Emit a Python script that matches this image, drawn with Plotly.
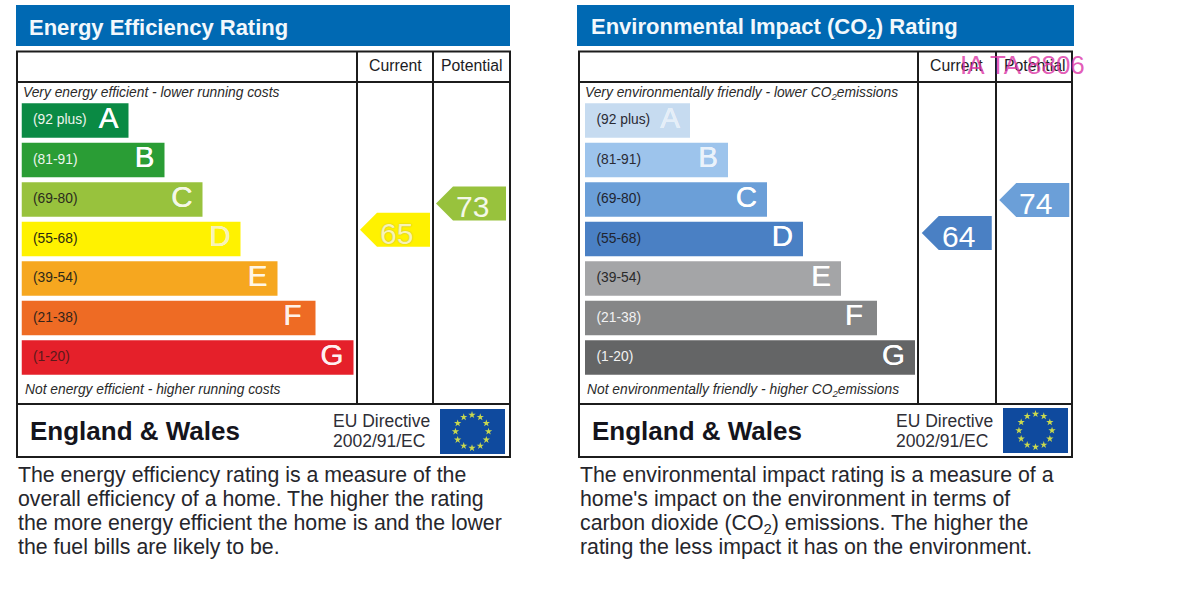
import plotly.graph_objects as go

# ---- data ----
bands = ["A", "B", "C", "D", "E", "F", "G"]
band_ranges = ["(92 plus)", "(81-91)", "(69-80)", "(55-68)", "(39-54)", "(21-38)", "(1-20)"]
energy_bar_lengths = [107, 143, 181, 219, 256, 294, 332]
co2_bar_lengths = [105, 143, 182, 218, 256, 292, 330]
columns = ["Current", "Potential"]
energy_ratings = [65, 73]
co2_ratings = [64, 74]
star_angles = [0, 30, 60, 90, 120, 150, 180, 210, 240, 270, 300, 330]

energy_colors = ["#0a8a44", "#2a9d35", "#98c23d", "#fff200", "#f6a71f", "#ee6b24", "#e5202a"]
co2_colors = ["#c6dbf0", "#9dc4ec", "#6b9fd8", "#4a80c4", "#a4a5a7", "#858687", "#646566"]
energy_label_colors = ["#eef5ee", "#eef5ee", "#2b2b1e", "#2b2b10", "#2e2a1a", "#33241a", "#5a1a1a"]
co2_label_colors = ["#2a2a33", "#2a2a33", "#1f2430", "#1f2430", "#2a2a2a", "#f2f2f2", "#f2f2f2"]
energy_letter_colors = ["#ffffff", "#ffffff", "#f5f8e6", "#f7f2b8", "#fff6e4", "#fff1e8", "#fff0f0"]
co2_letter_colors = ["#e4eef8", "#eaf2fb", "#ffffff", "#ffffff", "#ffffff", "#ffffff", "#ffffff"]
energy_rating_colors = ["#f8f3b6", "#f4f8e8"]
co2_rating_colors = ["#ffffff", "#ffffff"]

FONT = "Liberation Sans, Arial, sans-serif"
W, H = 1187, 600
THICK = "0.3px 0 0 rgba(255,255,255,0.7), -0.3px 0 0 rgba(255,255,255,0.7)"


def fx(x):
    return x / W


def fy(y):
    return 1 - y / H


annotations = []
shapes = []


def label(x, y, text, size, color="#222222", xanchor="left", xref="paper", weight=None):
    if xref == "paper" and xanchor == "left":
        x = x - 1  # annotation boxes keep a small inner pad
    if "<sub>" in text:
        y = y + 1  # a subscript makes the text box taller
    font = dict(family=FONT, size=size, color=color)
    if weight:
        font["weight"] = weight
    annotations.append(dict(
        x=x if xref != "paper" else fx(x), y=fy(y), xref=xref, yref="paper",
        text=text, showarrow=False, xanchor=xanchor, yanchor="middle",
        font=font, borderpad=0))


def rect(x0, y0, x1, y1, fill="rgba(0,0,0,0)", line=None, width=2):
    shapes.append(dict(type="rect", xref="paper", yref="paper", layer="below",
                       x0=fx(x0), x1=fx(x1), y0=fy(y0), y1=fy(y1), fillcolor=fill,
                       line=dict(color=line or "rgba(0,0,0,0)", width=width if line else 0)))


def hline(x0, x1, y):
    shapes.append(dict(type="line", xref="paper", yref="paper", layer="below",
                       x0=fx(x0), x1=fx(x1), y0=fy(y), y1=fy(y), line=dict(color="#1c1c1c", width=2)))


def vline(x, y0, y1):
    shapes.append(dict(type="line", xref="paper", yref="paper", layer="below",
                       x0=fx(x), x1=fx(x), y0=fy(y0), y1=fy(y1), line=dict(color="#1c1c1c", width=2)))


def band_of(rating):
    for letter, text in zip(bands, band_ranges):
        if text == "(92 plus)":
            if rating >= 92:
                return letter
        else:
            lo, hi = text[1:-1].split("-")
            if int(lo) <= rating <= int(hi):
                return letter
    return bands[-1]


fig = go.Figure()
BAR_TOP, BAR_BOTTOM = 100.8, 377.3
LETTER_INSET = {"F": 14}


def panel(n, left, lengths, colors, label_colors, letter_colors, ratings, rating_colors,
          bar_x, col_x0, col_x1, header, title, top_note, bottom_note, text_lines,
          head_x0, head_x1, flag_x0, flag_y0, polar_c, note_size):
    xa = 2 * n - 1
    xb = 2 * n
    sx = "" if xa == 1 else str(xa)
    axx, axy = "x" + sx, "y" + sx
    bxx, bxy = f"x{xb}", f"y{xb}"

    fig.add_trace(go.Bar(x=lengths, y=bands, orientation="h", marker=dict(color=colors, line=dict(width=0)),
                         xaxis=axx, yaxis=axy, hoverinfo="x+y", showlegend=False))
    fig.add_trace(go.Scatter(x=[11.5] * 7, y=bands, text=band_ranges, mode="text", textposition="middle right",
                             textfont=dict(family=FONT, size=13.8, color=label_colors),
                             xaxis=axx, yaxis=axy, hoverinfo="skip", showlegend=False))
    fig.add_trace(go.Scatter(x=[v - LETTER_INSET.get(b, 10) for v, b in zip(lengths, bands)], y=bands, text=bands,
                             mode="text", textposition="middle left",
                             textfont=dict(family=FONT, size=29.5, color=letter_colors, shadow=THICK),
                             xaxis=axx, yaxis=axy, hoverinfo="skip", showlegend=False))

    # rating pointers: anchored on the rating axis, sized in pixels
    for col, r, tc in zip(columns, ratings, rating_colors):
        fill = colors[bands.index(band_of(r))]
        shapes.append(dict(type="path", xref=bxx, yref=bxy, layer="below",
                           xsizemode="pixel", ysizemode="pixel", xanchor=col, yanchor=r,
                           path="M-35,0 L-18,-17 L35,-17 L35,17 L-18,17 Z",
                           fillcolor=fill, line=dict(width=0)))
        shadow = "0 0 1.5px #b0a848" if fill == "#fff200" else "none"
        annotations.append(dict(x=col, y=r, xref=bxx, yref=bxy, text=str(r), showarrow=False,
                                xanchor="center", yanchor="middle", xshift=1.5, yshift=-3.5,
                                font=dict(family=FONT, size=30, color=tc, shadow=shadow), borderpad=0))

    fig.update_layout(**{
        f"xaxis{sx}": dict(domain=[fx(bar_x), fx(bar_x + 335)], range=[0, 335], visible=False, fixedrange=True),
        f"yaxis{sx}": dict(domain=[fy(BAR_BOTTOM), fy(BAR_TOP)], type="category", categoryorder="array",
                           categoryarray=bands, autorange="reversed", visible=False, fixedrange=True,
                           anchor=axx),
        f"xaxis{xb}": dict(domain=[fx(col_x0), fx(col_x1)], type="category", categoryorder="array",
                           categoryarray=columns, visible=False, range=[-0.5, 1.5], fixedrange=True, anchor=bxy),
        f"yaxis{xb}": dict(domain=[fy(BAR_BOTTOM), fy(BAR_TOP)], range=[20.3, 104.1], visible=False,
                           fixedrange=True, anchor=bxx),
    })
    # keep the category axes in use even though the pointers are shapes
    fig.add_trace(go.Scatter(x=columns, y=ratings, mode="markers", marker=dict(size=1, opacity=0),
                             xaxis=bxx, yaxis=bxy, hoverinfo="y", showlegend=False))

    # frame
    rect(head_x0, 5, head_x1, 46, fill="#0069b3")
    rect(left, 51.5, left + 493, 457, line="#1c1c1c")
    hline(left, left + 493, 82)
    hline(left, left + 493, 404)
    vline(header[0], 51.5, 404)
    vline(header[1], 51.5, 404)

    # flag
    rect(flag_x0, flag_y0, flag_x0 + 65, flag_y0 + 45, fill="#0f4a9e")
    pname = "polar" if n == 1 else "polar2"
    fig.add_trace(go.Scatterpolar(r=[1] * 12, theta=star_angles, mode="markers",
                                  marker=dict(symbol="star", size=5.5, color="#c9d84e"),
                                  subplot=pname, hoverinfo="skip", showlegend=False))
    cx, cy = polar_c
    fig.update_layout(**{pname: dict(
        domain=dict(x=[fx(cx - 22), fx(cx + 22)], y=[fy(cy + 22), fy(cy - 22)]),
        bgcolor="rgba(0,0,0,0)",
        radialaxis=dict(visible=False, range=[0, 1.33]),
        angularaxis=dict(visible=False))})

    # texts
    label(left + 12, 27, title, 22, color="#f2f8fc", weight="bold")
    for col in columns:
        label(col, 66, col, 15.8, color="#1c1c24", xanchor="center", xref=bxx)
    label(left + 6, 92, f"<i>{top_note}</i>", note_size, color="#2a2a2a")
    label(left + 8, 389, f"<i>{bottom_note}</i>", note_size, color="#2a2a2a")
    label(left + 13, 431, "England &amp; Wales", 26, color="#14141c", weight="bold")
    label(flag_x0 - 107, 421, "EU Directive", 17.5, color="#2e2e36")
    label(flag_x0 - 107, 441, "2002/91/EC", 17.5, color="#2e2e36")
    for i, t in enumerate(text_lines):
        label(left + 1, 475 + 24 * i, t, 21.3, color="#26262c")


panel(1, 17, energy_bar_lengths, energy_colors, energy_label_colors, energy_letter_colors,
      energy_ratings, energy_rating_colors,
      21.5, 357, 509, (357, 433), "Energy Efficiency Rating",
      "Very energy efficient - lower running costs",
      "Not energy efficient - higher running costs",
      ["The energy efficiency rating is a measure of the",
       "overall efficiency of a home. The higher the rating",
       "the more energy efficient the home is and the lower",
       "the fuel bills are likely to be."],
      16, 510, 440, 409, (472, 431.5), 13.8)

panel(2, 579, co2_bar_lengths, co2_colors, co2_label_colors, co2_letter_colors,
      co2_ratings, co2_rating_colors,
      585, 918, 1073, (918, 996), "Environmental Impact (CO<sub>2</sub>) Rating",
      "Very environmentally friendly - lower CO<sub>2</sub>emissions",
      "Not environmentally friendly - higher CO<sub>2</sub>emissions",
      ["The environmental impact rating is a measure of a",
       "home's impact on the environment in terms of",
       "carbon dioxide (CO<sub>2</sub>) emissions. The higher the",
       "rating the less impact it has on the environment."],
      577, 1074, 1003, 408, (1035.5, 430.5), 13.8)

# pink stamp over the right-hand header
annotations.append(dict(x=fx(1022), y=fy(65), xref="paper", yref="paper", text="IA TA 8806", showarrow=False,
                        xanchor="center", yanchor="middle", borderpad=0,
                        font=dict(family=FONT, size=26, color="rgba(220,50,165,0.8)")))

fig.update_layout(
    width=W, height=H, margin=dict(l=0, r=0, t=0, b=0), autosize=False,
    paper_bgcolor="#ffffff", plot_bgcolor="rgba(0,0,0,0)",
    barmode="overlay", bargap=0.13, showlegend=False,
    annotations=annotations, shapes=shapes,
)
fig.write_html("out.html", config=dict(displayModeBar=False),
               post_script="document.body.style.margin='0';document.body.style.overflow='hidden';")
